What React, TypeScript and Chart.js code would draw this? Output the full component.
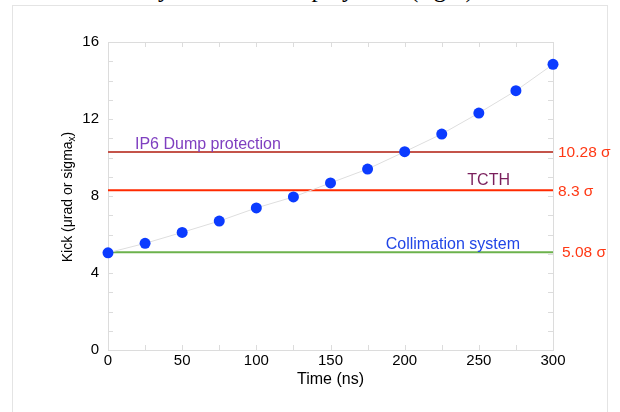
import React, { useEffect, useRef } from "react";
import { Chart, registerables } from "chart.js";

Chart.register(...registerables);

// ---- data ----
const times = [0, 25, 50, 75, 100, 125, 150, 175, 200, 225, 250, 275, 300];
const kicks = [5.05, 5.54, 6.11, 6.7, 7.38, 7.95, 8.68, 9.4, 10.3, 11.22, 12.31, 13.47, 14.84];
const thresholdValues = [10.28, 8.3, 5.08];
const thresholdNames = ["IP6 Dump protection", "TCTH", "Collimation system"];
const thresholdTags = ["10.28 σ", "8.3 σ", "5.08 σ"];
const xRange = [0, 300];
const yRange = [0, 16];
const xTickStep = 50;
const yTickStep = 4;
const xMinorStep = 25;
const yMinorStep = 1;

const FONT = "'Liberation Sans', Arial, Helvetica, sans-serif";
const lineColors = ["#c4544a", "#ff2a00", "#6cb24c"];
const nameColors = ["#7f3fc0", "#7a1f5c", "#2146e6"];
const tagColor = "#ff3814";

const framePlugin = {
  id: "frameTicks",
  beforeDatasetsDraw(chart: any) {
    const { ctx, chartArea } = chart;
    const { left, right, top, bottom } = chartArea;
    const xs = chart.scales.x;
    const ys = chart.scales.y;
    ctx.save();
    ctx.strokeStyle = "#dcdcdc";
    ctx.lineWidth = 1;
    ctx.strokeRect(Math.round(left) + 0.5, Math.round(top) + 0.5, Math.round(right - left), Math.round(bottom - top));
    ctx.beginPath();
    for (let v = xRange[0]; v <= xRange[1]; v += xMinorStep) {
      const px = Math.round(xs.getPixelForValue(v)) + 0.5;
      ctx.moveTo(px, bottom);
      ctx.lineTo(px, bottom - 5);
      ctx.moveTo(px, top);
      ctx.lineTo(px, top + 5);
    }
    for (let v = yRange[0]; v <= yRange[1]; v += yMinorStep) {
      const py = Math.round(ys.getPixelForValue(v)) + 0.5;
      ctx.moveTo(left, py);
      ctx.lineTo(left + 5, py);
      ctx.moveTo(right, py);
      ctx.lineTo(right - 5, py);
    }
    ctx.stroke();
    ctx.restore();
  },
  afterDatasetsDraw(chart: any) {
    const { ctx, chartArea } = chart;
    const { left, right, top, bottom } = chartArea;
    const ys = chart.scales.y;
    ctx.save();
    ctx.textBaseline = "middle";
    // line names
    ctx.font = `16px ${FONT}`;
    const y0 = ys.getPixelForValue(thresholdValues[0]);
    ctx.fillStyle = nameColors[0];
    ctx.textAlign = "left";
    ctx.fillText(thresholdNames[0], left + 27, y0 - 8);
    const y1 = ys.getPixelForValue(thresholdValues[1]);
    ctx.fillStyle = nameColors[1];
    ctx.textAlign = "right";
    ctx.fillText(thresholdNames[1], right - 43, y1 - 10);
    const y2 = ys.getPixelForValue(thresholdValues[2]);
    ctx.fillStyle = nameColors[2];
    ctx.textAlign = "right";
    ctx.fillText(thresholdNames[2], right - 33, y2 - 8);
    // tags
    ctx.font = `15.5px ${FONT}`;
    ctx.fillStyle = tagColor;
    ctx.textAlign = "left";
    const tagOffsets = [5, 5, 9];
    thresholdValues.forEach((v, i) => {
      ctx.fillText(thresholdTags[i], right + tagOffsets[i], ys.getPixelForValue(v) + 1);
    });
    // y title with subscript
    const cx = 67;
    const cy = (top + bottom) / 2 + 1;
    ctx.translate(cx, cy);
    ctx.rotate(-Math.PI / 2);
    ctx.fillStyle = "#000";
    const main = "Kick (μrad or sigma";
    const sub = "x";
    const end = ")";
    ctx.font = `14px ${FONT}`;
    const wMain = ctx.measureText(main).width;
    const wEnd = ctx.measureText(end).width;
    ctx.font = `10px ${FONT}`;
    const wSub = ctx.measureText(sub).width;
    const total = wMain + wSub + wEnd;
    let x = -total / 2;
    ctx.textAlign = "left";
    ctx.textBaseline = "alphabetic";
    ctx.font = `14px ${FONT}`;
    ctx.fillText(main, x, 5);
    x += wMain;
    ctx.font = `10px ${FONT}`;
    ctx.fillText(sub, x, 8);
    x += wSub;
    ctx.font = `14px ${FONT}`;
    ctx.fillText(end, x, 5);
    ctx.restore();
  },
};

export default function App() {
  const canvasRef = useRef<HTMLCanvasElement | null>(null);

  useEffect(() => {
    const canvas = canvasRef.current;
    if (!canvas) return;
    Chart.defaults.font.family = FONT;
    const thresholdSets = thresholdValues.map((v, i) => ({
      type: "line" as const,
      label: thresholdNames[i],
      data: [
        { x: xRange[0], y: v },
        { x: xRange[1], y: v },
      ],
      borderColor: lineColors[i],
      borderWidth: 2,
      pointRadius: 0,
      fill: false,
      order: 2,
    }));
    const chart = new Chart(canvas, {
      type: "scatter",
      data: {
        datasets: [
          {
            type: "line",
            label: "Kick",
            data: times.map((t, i) => ({ x: t, y: kicks[i] })),
            showLine: true,
            borderColor: "#dedede",
            borderWidth: 1,
            pointRadius: 5.5,
            pointBackgroundColor: "#0b3bff",
            pointBorderColor: "#0b3bff",
            pointBorderWidth: 0,
            fill: false,
            clip: false,
            order: 0,
          } as any,
          ...thresholdSets,
        ],
      },
      options: {
        responsive: false,
        animation: false,
        devicePixelRatio: 1,
        layout: { padding: { left: 0, right: 67, top: 42, bottom: 0 } },
        plugins: { legend: { display: false }, tooltip: { enabled: false } },
        scales: {
          x: {
            type: "linear",
            min: xRange[0],
            max: xRange[1],
            grid: { display: false, drawTicks: false },
            border: { display: false },
            ticks: { stepSize: xTickStep, color: "#000", font: { size: 15 }, padding: 2, maxRotation: 0 },
            title: { display: true, text: "Time (ns)", color: "#000", font: { size: 16 }, padding: { top: 0, bottom: 23 } },
            afterFit: (s: any) => {
              s.height = 62;
            },
          },
          y: {
            type: "linear",
            min: yRange[0],
            max: yRange[1],
            grid: { display: false, drawTicks: false },
            border: { display: false },
            ticks: { stepSize: yTickStep, color: "#000", font: { size: 15 }, padding: 9 },
            afterFit: (s: any) => {
              s.width = 108;
            },
          },
        },
      },
      plugins: [framePlugin],
    });
    return () => chart.destroy();
  }, []);

  return (
    <div style={{ position: "absolute", left: 0, top: 0, width: 620, height: 412, overflow: "hidden", background: "#fff" }}>
      <div
        style={{
          position: "absolute",
          left: 40,
          top: -24,
          whiteSpace: "nowrap",
          font: "25px 'Liberation Serif', 'Times New Roman', serif",
          lineHeight: "25px",
          color: "#000",
        }}
      >
        Kick seen by the kicker displayed in (right)
      </div>
      <div
        style={{
          position: "absolute",
          left: 12,
          top: 5,
          width: 596,
          height: 430,
          border: "1px solid #e4e4e4",
          boxSizing: "border-box",
        }}
      />
      <canvas ref={canvasRef} width={620} height={412} style={{ position: "absolute", left: 0, top: 0, width: 620, height: 412 }} />
    </div>
  );
}
